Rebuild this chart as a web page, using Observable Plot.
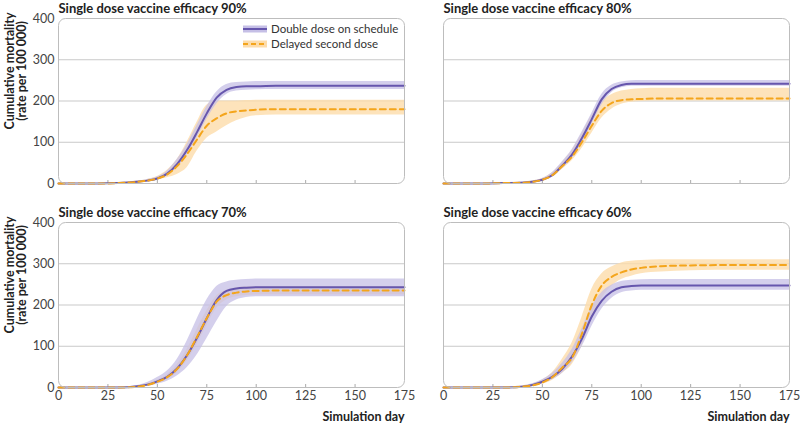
<!DOCTYPE html>
<html><head><meta charset="utf-8">
<script src="https://cdn.jsdelivr.net/npm/d3@7"></script>
<script src="https://cdn.jsdelivr.net/npm/@observablehq/plot@0.6"></script>
<style>
body{margin:0;background:#fff;font-family:Lato,"Noto Sans",sans-serif;}
#wrap{position:relative;width:800px;height:423px;}
.leg{position:absolute;left:243px;font-size:11.5px;color:#333;display:flex;align-items:center;white-space:nowrap;}
.leg svg{margin-right:4px;}
</style></head><body><div id="wrap"></div>
<script>
const titles = ["Single dose vaccine efficacy 90%","Single dose vaccine efficacy 80%","Single dose vaccine efficacy 70%","Single dose vaccine efficacy 60%"];
const seriesNames = ["Double dose on schedule","Delayed second dose"];
const xTicks = [0,25,50,75,100,125,150,175];
const yTicks = [0,100,200,300,400];
const days = [0,20,30,40,45,50,55,60,65,70,75,80,85,90,95,100,110,125,150,175];

const dd90   = [0,0,1,4,7,12,24,47,81,124,170,208,227,234,236,236,237,237,237,237];
const dd90Lo = [0,0,0,3,5,10,19,38,70,110,155,193,216,224,226,227,228,228,228,228];
const dd90Hi = [0,0,2,6,10,16,30,58,94,140,186,222,240,245,246,247,247,247,247,247];
const ds90   = [0,0,1,4,7,12,22,42,71,106,140,158,170,175,177,179,180,180,180,180];
const ds90Lo = [0,0,0,2,4,8,14,22,38,78,110,125,140,152,160,164,166,166,166,166];
const ds90Hi = [0,0,2,6,10,17,32,58,100,148,190,200,200,200,201,202,202,202,202,202];

const dd80   = [0,0,1,2,4,9,20,43,70,110,156,204,229,239,242,242,242,242,242,242];
const dd80Lo = [0,0,0,1,3,7,16,36,60,98,143,190,220,232,236,236,236,236,236,236];
const dd80Hi = [0,0,2,4,6,12,26,52,82,124,170,216,238,246,249,250,250,250,250,250];
const ds80   = [0,0,1,2,4,9,20,42,65,100,140,176,195,202,204,205,206,206,206,206];
const ds80Lo = [0,0,0,1,3,7,15,34,55,85,122,158,180,192,197,199,200,200,200,200];
const ds80Hi = [0,0,2,3,6,12,26,50,80,120,165,198,215,224,228,230,231,231,231,231];

const dd70   = [0,0,0,3,7,15,26,46,78,120,168,212,234,240,242,243,243,243,243,243];
const dd70Lo = [0,0,0,1,3,8,15,28,48,78,118,160,196,212,218,220,220,220,220,220];
const dd70Hi = [0,0,1,5,12,24,40,68,112,165,212,245,256,260,262,263,263,263,263,263];
const ds70   = [0,0,0,2,6,14,25,45,78,122,168,208,224,230,233,234,235,235,235,235];
const ds70Lo = [0,0,0,1,4,10,19,36,64,104,150,192,212,220,223,224,225,225,225,225];
const ds70Hi = [0,0,0,3,8,18,31,55,92,140,186,222,236,242,244,245,245,245,245,245];

const dd60   = [0,0,0,2,6,14,26,45,75,118,172,210,232,243,246,247,247,247,247,247];
const dd60Lo = [0,0,0,1,4,10,19,34,60,98,148,190,216,230,234,236,236,236,236,236];
const dd60Hi = [0,0,1,4,9,19,34,58,92,142,196,230,248,257,260,261,262,262,262,262];
const ds60   = [0,0,0,2,5,12,25,48,72,130,200,247,268,279,286,290,294,296,297,297];
const ds60Lo = [0,0,0,1,3,8,17,34,55,100,165,215,245,262,270,276,280,283,284,284];
const ds60Hi = [0,0,1,4,8,18,36,68,108,170,238,275,292,302,306,308,310,310,310,310];

const purple = "#6656ad", purpleBand = "#c5bfe6";
const orange = "#f4a51c", orangeBand = "#fddcaa";

const panels = [
  {title: titles[0], col: 0, row: 0, dd: [dd90, dd90Lo, dd90Hi], ds: [ds90, ds90Lo, ds90Hi]},
  {title: titles[1], col: 1, row: 0, dd: [dd80, dd80Lo, dd80Hi], ds: [ds80, ds80Lo, ds80Hi]},
  {title: titles[2], col: 0, row: 1, dd: [dd70, dd70Lo, dd70Hi], ds: [ds70, ds70Lo, ds70Hi]},
  {title: titles[3], col: 1, row: 1, dd: [dd60, dd60Lo, dd60Hi], ds: [ds60, ds60Lo, ds60Hi]}
];
const ddRows = [], dsRows = [];
for (const p of panels) {
  days.forEach((d, i) => {
    ddRows.push({col: p.col, row: p.row, day: d, v: p.dd[0][i], lo: p.dd[1][i], hi: p.dd[2][i]});
    dsRows.push({col: p.col, row: p.row, day: d, v: p.ds[0][i], lo: p.ds[1][i], hi: p.ds[2][i]});
  });
}
const rowMeta = [{col: 0, row: 0}, {col: 0, row: 1}];
const xLabMeta = [{col: 0, row: 1}, {col: 1, row: 1}];
const curve = "monotone-x";

const chart = Plot.plot({
  width: 800, height: 423,
  marginLeft: 57, marginRight: 10, marginTop: 17, marginBottom: 35,
  style: {fontFamily: "Lato, 'Noto Sans', sans-serif", fontSize: "12px", color: "#333", background: "#fff"},
  x: {domain: [0, 175]},
  y: {domain: [0, 400]},
  fx: {domain: [0, 1], axis: null, paddingInner: 0.101, paddingOuter: 0},
  fy: {domain: [0, 1], axis: null, paddingInner: 0.19, paddingOuter: 0},
  marks: [
    Plot.gridY(yTicks.slice(1, -1), {stroke: "#c9c9c9", strokeOpacity: 1, strokeWidth: 1}),
    Plot.ruleX(xTicks.slice(1, -1), {stroke: "#aaa", insetTop: 162}),
    Plot.areaY(dsRows, {x: "day", y1: "lo", y2: "hi", fx: "col", fy: "row", fill: orangeBand, fillOpacity: 0.8, curve}),
    Plot.areaY(ddRows, {x: "day", y1: "lo", y2: "hi", fx: "col", fy: "row", fill: purpleBand, fillOpacity: 0.75, curve}),
    Plot.lineY(ddRows, {x: "day", y: "v", fx: "col", fy: "row", stroke: purple, strokeWidth: 2, curve}),
    Plot.lineY(dsRows, {x: "day", y: "v", fx: "col", fy: "row", stroke: orange, strokeWidth: 2, strokeDasharray: "6,4", curve}),
    Plot.frame({stroke: "#bdbdbd", rx: 7}),
    Plot.axisY(yTicks, {tickSize: 0, tickPadding: 4, label: null, fontSize: 12.5, fill: "#444"}),
    Plot.axisX(xTicks, {tickSize: 0, tickPadding: 4, label: null, fontSize: 12.5, fill: "#444"}),
    Plot.text(panels, {fx: "col", fy: "row", text: "title", frameAnchor: "top-left", lineAnchor: "middle", dy: -10, textAnchor: "start", fontWeight: "bold", fontSize: 13, fill: "#222"}),
    Plot.text(rowMeta, {fx: "col", fy: "row", text: () => "Cumulative mortality\n(rate per 100 000)", frameAnchor: "left", lineAnchor: "middle", textAnchor: "middle", rotate: -90, dx: -42, dy: -30, fontWeight: "bold", fontSize: 12.5, lineHeight: 0.95, fill: "#222"}),
    Plot.text(xLabMeta, {fx: "col", fy: "row", text: () => "Simulation day", frameAnchor: "bottom-right", lineAnchor: "middle", dy: 29, textAnchor: "end", fontWeight: "bold", fontSize: 12.5, fill: "#222"})
  ]
});
const wrap = document.getElementById("wrap");
wrap.appendChild(chart);

function legendItem(name, color, band, dash, top) {
  const div = document.createElement("div");
  div.className = "leg";
  div.style.top = top + "px";
  div.innerHTML = `<svg width="24" height="10"><rect x="0" y="1.5" width="24" height="7" fill="${band}"/><line x1="0" x2="24" y1="5" y2="5" stroke="${color}" stroke-width="2" ${dash ? 'stroke-dasharray="5,3"' : ''}/></svg><span>${name}</span>`;
  wrap.appendChild(div);
}
legendItem(seriesNames[0], purple, purpleBand, false, 22);
legendItem(seriesNames[1], orange, orangeBand, true, 37);
</script>
</body></html>
